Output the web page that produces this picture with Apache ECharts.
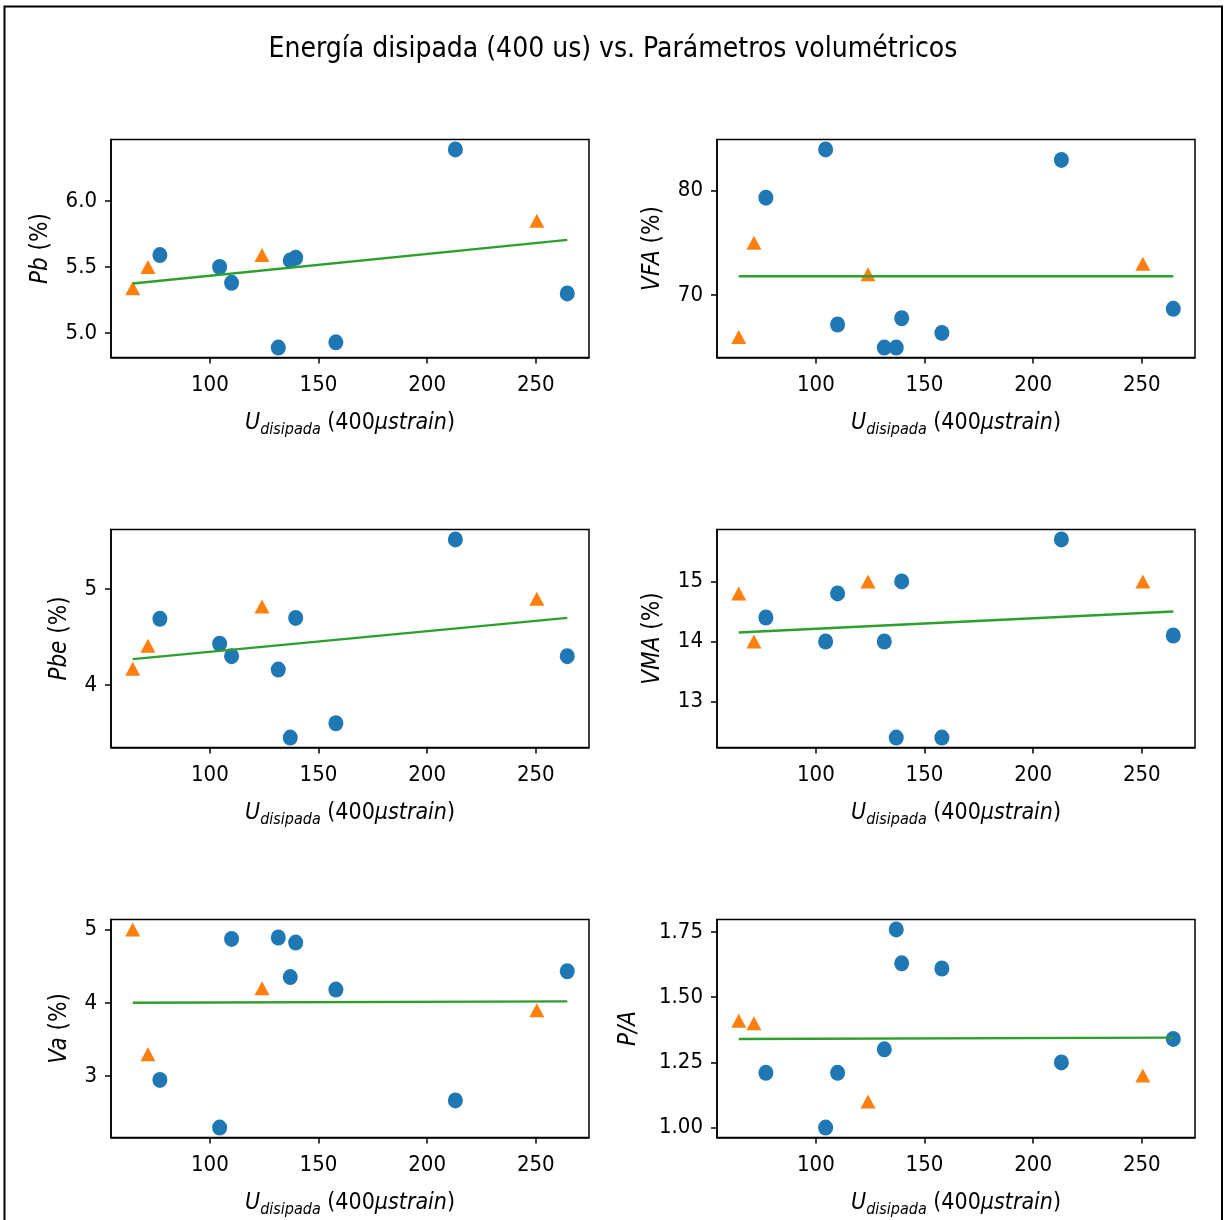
<!DOCTYPE html>
<html>
<head>
<meta charset="utf-8">
<script src="https://cdn.jsdelivr.net/npm/echarts@6/dist/echarts.min.js"></script>
<style>
  html, body { margin: 0; padding: 0; background: #fff; }
  #main { width: 1226px; height: 1220px; }
</style>
</head>
<body>
<div id="main"></div>
<script>
// energia disipada en el eje x (mismos puntos en todos los paneles)
var xBlue = [77, 104.5, 110, 131.5, 137, 139.5, 158, 213, 264.5];
var xOrange = [64.5, 71.5, 124, 250.5];
var xFit = [64.5, 264.5];
var xTicks = [100, 150, 200, 250];

var pbBlue = [5.59, 5.50, 5.38, 4.89, 5.55, 5.57, 4.93, 6.39, 5.30];
var pbOrange = [5.34, 5.50, 5.59, 5.85];
var pbFit = [5.375, 5.705];
var pbTicks = [5.0, 5.5, 6.0];

var vfaBlue = [79.3, 83.9, 67.2, 65.0, 65.0, 67.8, 66.4, 82.9, 68.7];
var vfaOrange = [66.0, 75.0, 72.0, 73.0];
var vfaFit = [71.8, 71.8];
var vfaTicks = [70, 80];

var pbeBlue = [4.69, 4.43, 4.30, 4.16, 3.45, 4.70, 3.60, 5.52, 4.30];
var pbeOrange = [4.17, 4.41, 4.82, 4.90];
var pbeFit = [4.27, 4.70];
var pbeTicks = [4, 5];

var vmaBlue = [14.4, 14.0, 14.8, 14.0, 12.4, 15.0, 12.4, 15.7, 14.1];
var vmaOrange = [14.8, 14.0, 15.0, 15.0];
var vmaFit = [14.15, 14.5];
var vmaTicks = [13, 14, 15];

var vaBlue = [2.95, 2.30, 4.87, 4.89, 4.35, 4.82, 4.18, 2.67, 4.43];
var vaOrange = [5.0, 3.3, 4.2, 3.9];
var vaFit = [4.0, 4.02];
var vaTicks = [3, 4, 5];

var paBlue = [1.21, 1.00, 1.21, 1.30, 1.76, 1.63, 1.61, 1.25, 1.34];
var paOrange = [1.41, 1.40, 1.10, 1.20];
var paFit = [1.34, 1.345];
var paTicks = [1.00, 1.25, 1.50, 1.75];

var FONT = '"DejaVu Sans Condensed", "DejaVu Sans", sans-serif';

function pairs(xs, ys) {
    return xs.map(function (x, i) { return [x, ys[i]]; });
}

// margen del 5% como en matplotlib
function padRange(vals) {
    var lo = Math.min.apply(null, vals), hi = Math.max.apply(null, vals);
    var d = (hi - lo) * 0.05;
    return [lo - d, hi + d];
}

var panels = [
    { name: '{i|Pb} (%)', blue: pbBlue, orange: pbOrange, fit: pbFit, ticks: pbTicks, dec: 1, left: 111, top: 139.5, gap: 58 },
    { name: '{i|VFA} (%)', blue: vfaBlue, orange: vfaOrange, fit: vfaFit, ticks: vfaTicks, dec: 0, left: 717, top: 139.5, gap: 52 },
    { name: '{i|Pbe} (%)', blue: pbeBlue, orange: pbeOrange, fit: pbeFit, ticks: pbeTicks, dec: 0, left: 111, top: 529.5, gap: 39 },
    { name: '{i|VMA} (%)', blue: vmaBlue, orange: vmaOrange, fit: vmaFit, ticks: vmaTicks, dec: 0, left: 717, top: 529.5, gap: 52 },
    { name: '{i|Va} (%)', blue: vaBlue, orange: vaOrange, fit: vaFit, ticks: vaTicks, dec: 0, left: 111, top: 919.5, gap: 39 },
    { name: '{i|P/A}', blue: paBlue, orange: paOrange, fit: paFit, ticks: paTicks, dec: 2, left: 717, top: 919.5, gap: 76 }
];

var grids = [], xAxes = [], yAxes = [], series = [];
var xRange = padRange(xBlue.concat(xOrange));
var axisLine = { show: true, lineStyle: { color: '#000', width: 1.5 } };

panels.forEach(function (p, k) {
    grids.push({
        left: p.left, top: p.top, width: 478, height: 218,
        show: true, borderColor: '#000', borderWidth: 1.5, containLabel: false
    });
    xAxes.push({
        type: 'value', gridIndex: k, min: xRange[0], max: xRange[1],
        axisLine: axisLine,
        axisTick: { show: true, length: 6, customValues: xTicks, lineStyle: { color: '#000', width: 1.5 } },
        axisLabel: { customValues: xTicks, margin: 17, color: '#000', fontSize: 22, fontFamily: FONT },
        splitLine: { show: false },
        name: '{i|U}{s|disipada}{n| (400}{i|μstrain}{n|)}',
        nameLocation: 'middle', nameGap: 52,
        nameTextStyle: {
            color: '#000', fontFamily: FONT, fontSize: 23,
            rich: {
                i: { fontStyle: 'italic', fontSize: 23, fontFamily: FONT, color: '#000', lineHeight: 28 },
                n: { fontSize: 23, fontFamily: FONT, color: '#000', lineHeight: 28 },
                s: { fontStyle: 'italic', fontSize: 16, fontFamily: FONT, color: '#000', lineHeight: 16, verticalAlign: 'bottom' }
            }
        }
    });
    var yr = padRange(p.blue.concat(p.orange, p.fit));
    yAxes.push({
        type: 'value', gridIndex: k, min: yr[0], max: yr[1],
        axisLine: axisLine,
        axisTick: { show: true, length: 6, customValues: p.ticks, lineStyle: { color: '#000', width: 1.5 } },
        axisLabel: {
            customValues: p.ticks, margin: 14, color: '#000', fontSize: 22, fontFamily: FONT,
            formatter: (function (d) { return function (v) { return v.toFixed(d); }; })(p.dec)
        },
        splitLine: { show: false },
        name: p.name, nameLocation: 'middle', nameRotate: 90, nameGap: p.gap,
        nameTextStyle: {
            color: '#000', fontFamily: FONT, fontSize: 24,
            rich: { i: { fontStyle: 'italic', fontSize: 24, fontFamily: FONT, color: '#000' } }
        }
    });
    series.push({
        type: 'scatter', xAxisIndex: k, yAxisIndex: k,
        data: pairs(xBlue, p.blue), symbol: 'circle', symbolSize: [15, 16],
        itemStyle: { color: '#1f77b4', opacity: 1 }
    });
    series.push({
        type: 'scatter', xAxisIndex: k, yAxisIndex: k,
        data: pairs(xOrange, p.orange), symbol: 'triangle', symbolSize: [15, 14],
        itemStyle: { color: '#ff7f0e', opacity: 1 }
    });
    series.push({
        type: 'line', xAxisIndex: k, yAxisIndex: k,
        data: pairs(xFit, p.fit), symbol: 'none',
        lineStyle: { color: '#2ca02c', width: 2.4 }
    });
});

var myChart = echarts.init(document.getElementById('main'));
var option = {
    animation: false,
    backgroundColor: '#fff',
    title: {
        text: 'Energía disipada (400 us) vs. Parámetros volumétricos',
        left: 'center', top: 31,
        textStyle: { color: '#000', fontWeight: 'normal', fontSize: 28, fontFamily: FONT }
    },
    // marco exterior de la figura
    graphic: [{
        type: 'rect', shape: { x: 4.5, y: 6.5, width: 1217.5, height: 1230 },
        style: { fill: 'none', stroke: '#000', lineWidth: 2 }, silent: true
    }],
    grid: grids,
    xAxis: xAxes,
    yAxis: yAxes,
    series: series
};
myChart.setOption(option);
</script>
</body>
</html>
